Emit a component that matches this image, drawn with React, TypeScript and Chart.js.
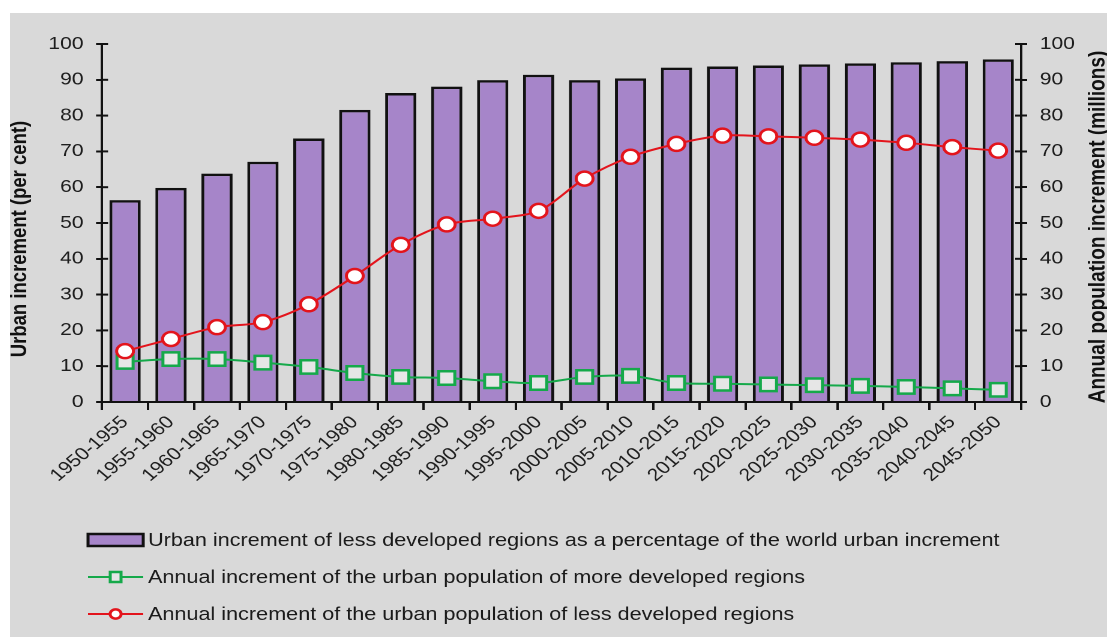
import React, { useEffect, useRef } from 'react';
import { Chart, registerables } from 'chart.js';

Chart.register(...registerables);

const periods = [
  '1950-1955', '1955-1960', '1960-1965', '1965-1970', '1970-1975',
  '1975-1980', '1980-1985', '1985-1990', '1990-1995', '1995-2000',
  '2000-2005', '2005-2010', '2010-2015', '2015-2020', '2020-2025',
  '2025-2030', '2030-2035', '2035-2040', '2040-2045', '2045-2050',
];

const urbanSharePct = [
  56.4, 59.8, 63.8, 67.1, 73.6, 81.6, 86.3, 88.1, 89.9, 91.4,
  89.9, 90.4, 93.4, 93.7, 94.0, 94.3, 94.6, 94.9, 95.2, 95.7,
];

const moreDevelopedIncrement = [
  11.2, 12.0, 12.0, 11.0, 9.8, 8.1, 7.0, 6.7, 5.8, 5.3,
  7.0, 7.3, 5.3, 5.1, 4.9, 4.7, 4.5, 4.2, 3.8, 3.4,
];

const lessDevelopedIncrement = [
  14.2, 17.6, 20.9, 22.3, 27.3, 35.2, 43.9, 49.6, 51.2, 53.4,
  62.4, 68.5, 72.1, 74.4, 74.2, 73.8, 73.3, 72.4, 71.2, 70.2,
];

const legendLabels = [
  'Urban increment of less developed regions as a percentage of the world urban increment',
  'Annual increment of the urban population of more developed regions',
  'Annual increment of the urban population of less developed regions',
];

const leftAxisTitle = 'Urban increment (per cent)';
const rightAxisTitle = 'Annual population increment (millions)';

const FONT = '"Liberation Sans", Arial, Helvetica, sans-serif';
const PURPLE = '#a685c9';
const GREEN = '#15a94a';
const RED = '#e3141c';
const DARK = '#111111';

// the picture is drawn on a narrower canvas and stretched horizontally
const CANVAS_W = 914;
const CANVAS_H = 624;

const decorPlugin = {
  id: 'decor',
  afterDraw(chart: any) {
    const ctx = chart.ctx as CanvasRenderingContext2D;
    const { left, right } = chart.chartArea;
    const y = chart.scales.y;
    const y1 = chart.scales.y1;
    ctx.save();
    ctx.strokeStyle = DARK;
    ctx.lineWidth = 2;
    y.ticks.forEach((_t: any, i: number) => {
      const py = y.getPixelForTick(i);
      ctx.beginPath();
      ctx.moveTo(left, py);
      ctx.lineTo(left + 5, py);
      ctx.stroke();
    });
    y1.ticks.forEach((_t: any, i: number) => {
      const py = y1.getPixelForTick(i);
      ctx.beginPath();
      ctx.moveTo(right - 5, py);
      ctx.lineTo(right, py);
      ctx.stroke();
    });

    ctx.fillStyle = DARK;
    ctx.textAlign = 'center';
    ctx.textBaseline = 'middle';
    ctx.font = `bold 18.5px ${FONT}`;
    ctx.save();
    ctx.translate(8.3, 226);
    ctx.rotate(-Math.PI / 2);
    ctx.fillText(leftAxisTitle, 0, 0);
    ctx.restore();
    ctx.font = `bold 19px ${FONT}`;
    ctx.save();
    ctx.translate(907, 214);
    ctx.rotate(-Math.PI / 2);
    ctx.fillText(rightAxisTitle, 0, 0);
    ctx.restore();

    const rows = [527, 564, 601];
    const x0 = 65;
    const x1 = 111;
    const xm = (x0 + x1) / 2;
    ctx.fillStyle = PURPLE;
    ctx.fillRect(x0, rows[0] - 6, x1 - x0, 12);
    ctx.strokeStyle = DARK;
    ctx.lineWidth = 2.5;
    ctx.strokeRect(x0, rows[0] - 6, x1 - x0, 12);

    ctx.strokeStyle = GREEN;
    ctx.lineWidth = 2;
    ctx.beginPath();
    ctx.moveTo(x0, rows[1]);
    ctx.lineTo(x1, rows[1]);
    ctx.stroke();
    ctx.fillStyle = '#e6e6e6';
    ctx.fillRect(xm - 4.5, rows[1] - 5, 9, 10);
    ctx.lineWidth = 2.5;
    ctx.strokeRect(xm - 4.5, rows[1] - 5, 9, 10);

    ctx.strokeStyle = RED;
    ctx.lineWidth = 2;
    ctx.beginPath();
    ctx.moveTo(x0, rows[2]);
    ctx.lineTo(x1, rows[2]);
    ctx.stroke();
    ctx.fillStyle = '#ffffff';
    ctx.beginPath();
    ctx.arc(xm, rows[2], 4.6, 0, Math.PI * 2);
    ctx.fill();
    ctx.lineWidth = 2.5;
    ctx.stroke();

    ctx.font = `18px ${FONT}`;
    ctx.textAlign = 'left';
    ctx.fillStyle = '#1a1a1a';
    chart.data.datasets.forEach((d: any, i: number) => {
      ctx.fillText(d.label, 115, rows[i] + 1);
    });
    ctx.restore();
  },
};

export default function App() {
  const canvasRef = useRef<HTMLCanvasElement | null>(null);

  useEffect(() => {
    if (!canvasRef.current) return;
    const chart = new Chart(canvasRef.current, {
      type: 'bar',
      data: {
        labels: periods,
        datasets: [
          {
            type: 'bar',
            label: legendLabels[0],
            data: urbanSharePct,
            backgroundColor: PURPLE,
            borderColor: DARK,
            borderWidth: 2.5,
            barPercentage: 0.68,
            categoryPercentage: 1,
            yAxisID: 'y',
            order: 3,
          },
          {
            type: 'line',
            label: legendLabels[1],
            data: moreDevelopedIncrement,
            borderColor: GREEN,
            borderWidth: 2,
            pointStyle: 'rect',
            pointRadius: 9.5,
            pointBorderWidth: 2.5,
            pointBackgroundColor: '#e6e6e6',
            pointBorderColor: GREEN,
            tension: 0.3,
            yAxisID: 'y1',
            order: 2,
          },
          {
            type: 'line',
            label: legendLabels[2],
            data: lessDevelopedIncrement,
            borderColor: RED,
            borderWidth: 2,
            pointStyle: 'circle',
            pointRadius: 7,
            pointBorderWidth: 2.5,
            pointBackgroundColor: '#ffffff',
            pointBorderColor: RED,
            tension: 0.3,
            yAxisID: 'y1',
            order: 1,
          },
        ],
      },
      options: {
        responsive: false,
        maintainAspectRatio: false,
        devicePixelRatio: 2,
        animation: false,
        layout: { padding: { top: 31, left: 0, right: 0, bottom: 0 } },
        plugins: {
          legend: { display: false },
          tooltip: { enabled: false },
        },
        scales: {
          x: {
            offset: true,
            grid: {
              display: true,
              offset: true,
              drawOnChartArea: false,
              color: DARK,
              lineWidth: 2,
              tickLength: 8,
            },
            border: { display: true, color: DARK, width: 2 },
            ticks: {
              minRotation: 45,
              maxRotation: 45,
              autoSkip: false,
              padding: 2,
              color: '#1e1e1e',
              font: { family: FONT, size: 17.5 },
            },
            afterFit: (scale: any) => {
              scale.height = 235;
            },
          },
          y: {
            position: 'left',
            min: 0,
            max: 100,
            grid: {
              drawOnChartArea: false,
              color: DARK,
              lineWidth: 2,
              tickLength: 5,
            },
            border: { display: true, color: DARK, width: 2 },
            ticks: {
              stepSize: 10,
              padding: 10.5,
              color: '#1e1e1e',
              font: { family: FONT, size: 17.5 },
            },
            afterFit: (scale: any) => {
              scale.width = 76.7;
            },
          },
          y1: {
            position: 'right',
            min: 0,
            max: 100,
            grid: {
              drawOnChartArea: false,
              color: DARK,
              lineWidth: 2,
              tickLength: 5,
            },
            border: { display: true, color: DARK, width: 2 },
            ticks: {
              stepSize: 10,
              padding: 10.5,
              color: '#1e1e1e',
              font: { family: FONT, size: 17.5 },
            },
            afterFit: (scale: any) => {
              scale.width = 71.5;
            },
          },
        },
      },
      plugins: [decorPlugin],
    });
    return () => chart.destroy();
  }, []);

  return (
    <div style={{ position: 'absolute', left: 0, top: 0, width: 1107, height: 637, background: '#ffffff' }}>
      <div style={{ position: 'absolute', left: 10, top: 13, width: 1097, height: 624, background: '#d9d9d9' }}>
        <canvas
          ref={canvasRef}
          width={CANVAS_W}
          height={CANVAS_H}
          style={{ display: 'block', width: '1097px', height: '624px' }}
        />
      </div>
    </div>
  );
}
